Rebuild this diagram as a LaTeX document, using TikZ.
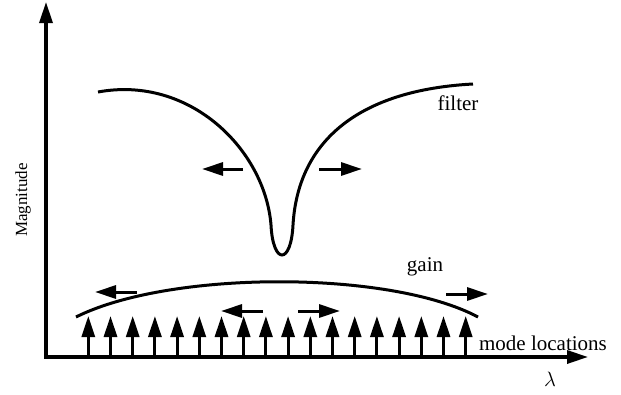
\documentclass[tikz,border=0pt]{standalone}
\usepackage{fontspec}
\setmainfont{Liberation Serif}
\usetikzlibrary{arrows.meta}
\tikzset {
  >={Triangle[length=21pt,width=13pt]},
  every node/.style={font=\fontsize{21}{25}\selectfont},
  trace/.style={line width=3pt},
  shiftarrow/.style={->,line width=3pt},
}

\begin{document}
\begin{tikzpicture}[x=1pt,y=-1pt]
          \useasboundingbox (0,0) rectangle (621,394);
          \draw[->,line width=3.3pt] (46,357) -- (46,2);
          \draw[->,line width=3.3pt] (44.35,357) -- (588,357);
          \node[rotate=90,font=\fontsize{17}{20}\selectfont] (ylab) at (23,200) {Magnitude};
          \node (xlab) at (550,379) {$\lambda$};
          % filter
          \draw[trace] (98,92) .. controls (190,75) and (265,150) .. (271,225)
            .. controls (273,265) and (291,265) .. (293,225)
            .. controls (298,140) and (360,90) .. (473,84);
          \node (filter) at (458,103) {filter};
          \draw[shiftarrow] (243,169) -- (202,169);
          \draw[shiftarrow] (319,169) -- (362,169);
          % gain
          \draw[trace] (76,317) .. controls (170,270) and (390,270) .. (478,317);
          \node (gain) at (425,267) {gain};
          \draw[shiftarrow] (137,292) -- (95,292);
          \draw[shiftarrow] (263,311) -- (221,311);
          \draw[shiftarrow] (298,311) -- (340,311);
          \draw[shiftarrow] (446,294) -- (488,294);
          % modes
          \foreach \k in {0,...,17}
            \draw[->,line width=3pt] (88.3+22.2*\k,357) -- (88.3+22.2*\k,316);
          \node (modes) at (543,343) {mode locations};
        \end{tikzpicture}
\end{document}
